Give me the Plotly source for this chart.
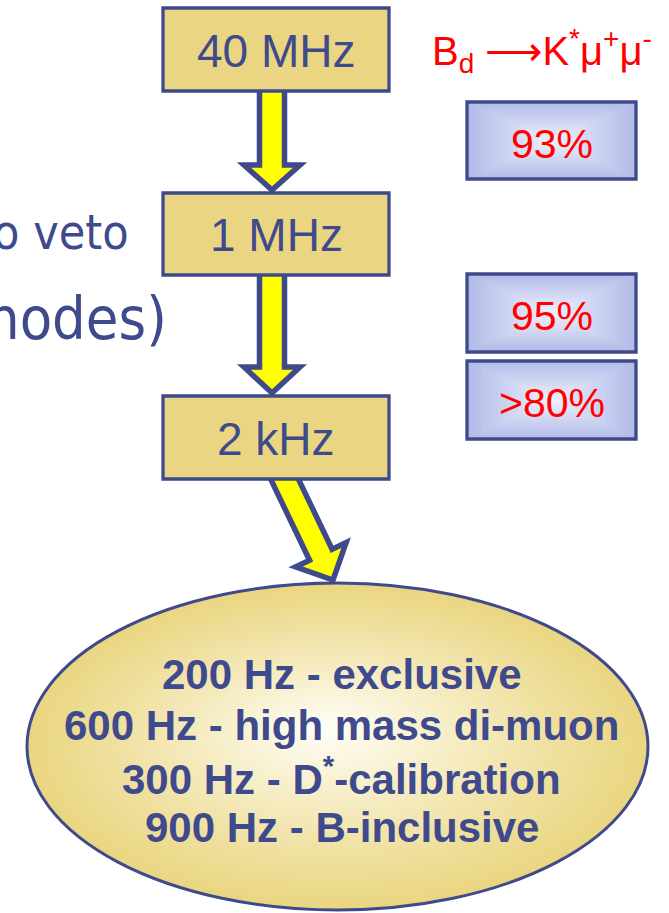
import math
import plotly.graph_objects as go

# ---- content ----
rate_labels = ["40 MHz", "1 MHz", "2 kHz"]
eff_labels = ["93%", "95%", ">80%"]
decay_label = "B<sub>d</sub> ⟶K<sup>*</sup>μ<sup>+</sup>μ<sup>-</sup>"
side_text = ["o veto", "nodes)"]
channel_lines = [
    "200 Hz - exclusive",
    "600 Hz - high mass di-muon",
    "300 Hz - D<sup>*</sup>-calibration",
    "900 Hz - B-inclusive",
]

# ---- layout constants (pixel-like data coords, y grows downward) ----
W, H = 669, 913
NAVY = "#3f4a8c"
KHAKI = (234, 214, 130)
CREAM = (255, 254, 246)
LAV_OUT = (178, 188, 232)
LAV_IN = (238, 240, 251)
SANS = "Liberation Sans, Arial, sans-serif"
SIDE_FONT = "DejaVu Sans Condensed, DejaVu Sans, sans-serif"

rate_box_x = (163, 389)
rate_box_y = [(8, 91), (193, 275), (396, 479)]
eff_box_x = (467, 636)
eff_box_y = [(102, 179), (274, 352), (361, 439)]
ellipse = dict(x0=27, x1=648, y0=583, y1=910)
ellipse_focus = (325, 728)
channel_y = [674, 725, 776, 827]


def mix(c1, c2, t):
    return "rgb({},{},{})".format(*[round(a + (b - a) * t) for a, b in zip(c1, c2)])


def arrow_path(x0, y0, x1, y1, shaft=12.5, head=28, head_len=25):
    dx, dy = x1 - x0, y1 - y0
    L = math.hypot(dx, dy)
    ux, uy = dx / L, dy / L
    px, py = -uy, ux
    bx, by = x1 - ux * head_len, y1 - uy * head_len
    pts = [
        (x0 + px * shaft, y0 + py * shaft),
        (bx + px * shaft, by + py * shaft),
        (bx + px * head, by + py * head),
        (x1, y1),
        (bx - px * head, by - py * head),
        (bx - px * shaft, by - py * shaft),
        (x0 - px * shaft, y0 - py * shaft),
    ]
    return "M " + " L ".join(f"{x:.1f},{y:.1f}" for x, y in pts) + " Z"


shapes = []
annotations = []

# ellipse with radial-ish gradient (nested ellipses)
cx = (ellipse["x0"] + ellipse["x1"]) / 2
cy = (ellipse["y0"] + ellipse["y1"]) / 2
rx = (ellipse["x1"] - ellipse["x0"]) / 2
ry = (ellipse["y1"] - ellipse["y0"]) / 2
N = 45
for i in range(N):
    t = i / N
    s = 1 - t * 0.98
    ccx = cx + (ellipse_focus[0] - cx) * t
    ccy = cy + (ellipse_focus[1] - cy) * t
    shapes.append(dict(
        type="circle", xref="x", yref="y",
        x0=ccx - rx * s, x1=ccx + rx * s, y0=ccy - ry * s, y1=ccy + ry * s,
        fillcolor=mix(KHAKI, CREAM, t ** 1.1),
        line=dict(color=NAVY, width=3) if i == 0 else dict(width=0),
    ))

# arrows
arrows = [
    (272, 60, 272, 190, 25),
    (272, 250, 272, 393, 26),
    (272.5, 454, 333, 580, 28),
]
for x0, y0, x1, y1, hl in arrows:
    shapes.append(dict(
        type="path", xref="x", yref="y",
        path=arrow_path(x0, y0, x1, y1, head_len=hl),
        fillcolor="#ffff00", line=dict(color=NAVY, width=5.5),
    ))

# rate boxes
for (y0, y1), lab in zip(rate_box_y, rate_labels):
    shapes.append(dict(
        type="rect", xref="x", yref="y",
        x0=rate_box_x[0], x1=rate_box_x[1], y0=y0, y1=y1,
        fillcolor=mix(KHAKI, KHAKI, 0), line=dict(color=NAVY, width=3.3),
    ))
    annotations.append(dict(
        x=(rate_box_x[0] + rate_box_x[1]) / 2, y=(y0 + y1) / 2 + 1,
        xref="x", yref="y", text=lab, showarrow=False,
        font=dict(family=SANS, size=46, color=NAVY),
    ))

# efficiency boxes with rectangular path gradient
ex0, ex1 = eff_box_x
ecx = (ex0 + ex1) / 2
M = 16
for (y0, y1), lab in zip(eff_box_y, eff_labels):
    ecy = (y0 + y1) / 2
    hw, hh = (ex1 - ex0) / 2, (y1 - y0) / 2
    for i in range(M):
        t = i / M
        s = 1 - t * 0.97
        shapes.append(dict(
            type="rect", xref="x", yref="y",
            x0=ecx - hw * s, x1=ecx + hw * s, y0=ecy - hh * s, y1=ecy + hh * s,
            fillcolor=mix(LAV_OUT, LAV_IN, t),
            line=dict(width=0),
        ))
    shapes.append(dict(
        type="rect", xref="x", yref="y",
        x0=ex0, x1=ex1, y0=y0, y1=y1,
        fillcolor="rgba(0,0,0,0)", line=dict(color=NAVY, width=3.3),
    ))
    annotations.append(dict(
        x=ecx, y=ecy + 3, xref="x", yref="y", text=lab, showarrow=False,
        font=dict(family=SANS, size=41, color="#ff0000"),
    ))

# decay label
annotations.append(dict(
    x=430, y=51, xref="x", yref="y", xanchor="left", text=decay_label,
    showarrow=False, font=dict(family=SANS, size=40, color="#ff0000"),
))

# clipped text on the left
annotations.append(dict(
    x=131, y=232, xref="x", yref="y", xanchor="right", text=side_text[0],
    showarrow=False, font=dict(family=SIDE_FONT, size=48, color=NAVY),
))
annotations.append(dict(
    x=169, y=318, xref="x", yref="y", xanchor="right", text=side_text[1],
    showarrow=False, font=dict(family=SIDE_FONT, size=59, color=NAVY),
))

# channel lines in the ellipse
for y, line in zip(channel_y, channel_lines):
    annotations.append(dict(
        x=cx + 4, y=y, xref="x", yref="y", text=f"<b>{line}</b>",
        showarrow=False, font=dict(family=SANS, size=42, color=NAVY),
    ))

fig = go.Figure()
fig.update_layout(
    width=W, height=H,
    margin=dict(l=0, r=0, t=0, b=0),
    paper_bgcolor="white", plot_bgcolor="white",
    xaxis=dict(range=[0, W], visible=False, fixedrange=True),
    yaxis=dict(range=[H, 0], visible=False, fixedrange=True),
    shapes=shapes, annotations=annotations,
    showlegend=False,
)

fig.write_html(
    "out.html",
    config={"displayModeBar": False},
    post_script="document.body.style.margin='0';document.body.style.overflow='hidden';",
)
